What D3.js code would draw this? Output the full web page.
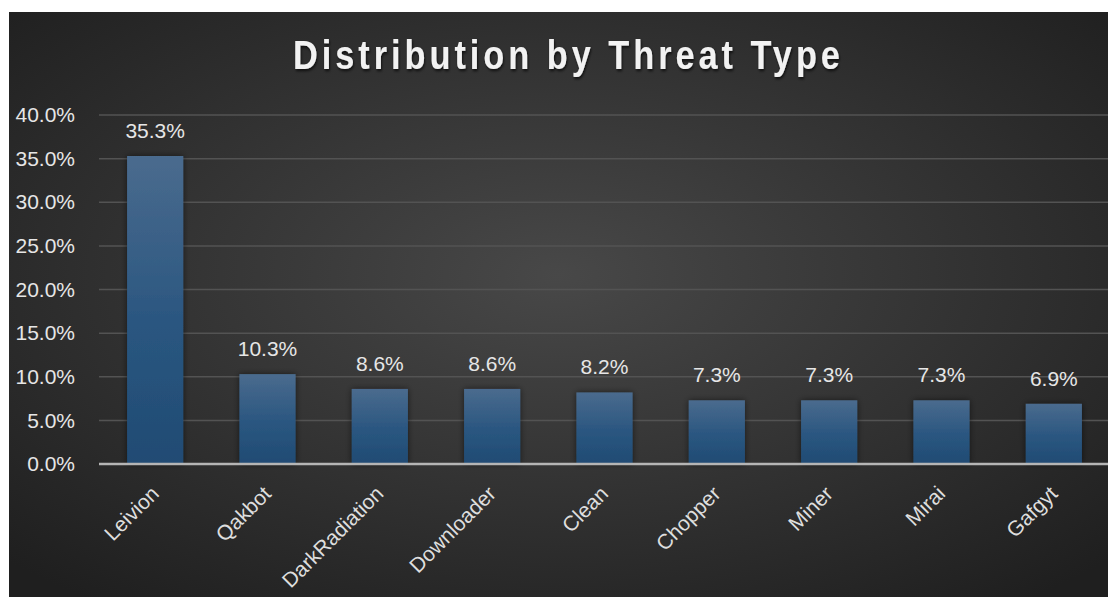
<!DOCTYPE html>
<html>
<head>
<meta charset="utf-8">
<script src="https://cdn.jsdelivr.net/npm/d3@7"></script>
<style>
  body { margin: 0; background: #fff; }
  svg { display: block; }
</style>
</head>
<body>
<div id="chart"></div>
<script>
// data
var categories = ["Leivion", "Qakbot", "DarkRadiation", "Downloader", "Clean", "Chopper", "Miner", "Mirai", "Gafgyt"];
var shares = [35.3, 10.3, 8.6, 8.6, 8.2, 7.3, 7.3, 7.3, 6.9];
var yTicks = [0, 5, 10, 15, 20, 25, 30, 35, 40];
var title = "Distribution by Threat Type";

var width = 1108, height = 597;
var margin = {top: 115, right: -2, bottom: 133, left: 99};
var labelFont = "'Liberation Sans', Arial, sans-serif";

var svg = d3.select("#chart").append("svg")
    .attr("width", width)
    .attr("height", height);

var defs = svg.append("defs");

// background: dark radial gradient, lighter in the middle
var bg = defs.append("radialGradient")
    .attr("id", "bg")
    .attr("cx", "50%").attr("cy", "45%").attr("r", "70%");
bg.append("stop").attr("offset", "0%").attr("stop-color", "#484848");
bg.append("stop").attr("offset", "100%").attr("stop-color", "#1f1f1f");

var barGrad = defs.append("linearGradient")
    .attr("id", "bar")
    .attr("x1", 0).attr("y1", 0).attr("x2", 0).attr("y2", 1);
barGrad.append("stop").attr("offset", "0%").attr("stop-color", "#4a6b8e");
barGrad.append("stop").attr("offset", "55%").attr("stop-color", "#2a5680");
barGrad.append("stop").attr("offset", "100%").attr("stop-color", "#204b73");

var shadow = defs.append("filter").attr("id", "shadow")
    .attr("x", "-30%").attr("y", "-30%").attr("width", "160%").attr("height", "160%");
shadow.append("feDropShadow")
    .attr("dx", 0).attr("dy", 0).attr("stdDeviation", 3)
    .attr("flood-color", "#000").attr("flood-opacity", 0.55);

var tshadow = defs.append("filter").attr("id", "tshadow")
    .attr("x", "-10%").attr("y", "-30%").attr("width", "120%").attr("height", "160%");
tshadow.append("feDropShadow")
    .attr("dx", 1).attr("dy", 2).attr("stdDeviation", 1.5)
    .attr("flood-color", "#000").attr("flood-opacity", 0.7);

svg.append("rect")
    .attr("x", 9).attr("y", 12)
    .attr("width", width - 9).attr("height", height - 12)
    .attr("fill", "url(#bg)");

var x = d3.scaleBand()
    .domain(categories)
    .range([margin.left, width - margin.right])
    .paddingInner(0.5)
    .paddingOuter(0.25);

var y = d3.scaleLinear()
    .domain([0, 40])
    .range([height - margin.bottom, margin.top]);

// gridlines
svg.append("g")
    .selectAll("line")
    .data(yTicks.filter(d => d > 0))
    .join("line")
    .attr("x1", margin.left)
    .attr("x2", width)
    .attr("y1", d => y(d))
    .attr("y2", d => y(d))
    .attr("stroke", "#535353")
    .attr("stroke-width", 1.5);

// y axis labels
var yAxis = d3.axisLeft(y)
    .tickValues(yTicks)
    .tickFormat(d => d.toFixed(1) + "%")
    .tickSize(0)
    .tickPadding(24);

svg.append("g")
    .attr("transform", "translate(" + margin.left + ",0)")
    .call(yAxis)
    .call(g => g.select(".domain").remove())
    .selectAll("text")
    .attr("fill", "#e6e6e6")
    .style("font-family", labelFont)
    .style("font-size", "21px");

// bars
svg.append("g")
    .selectAll("rect")
    .data(shares)
    .join("rect")
    .attr("x", (d, i) => x(categories[i]))
    .attr("y", d => y(d))
    .attr("width", x.bandwidth())
    .attr("height", d => y(0) - y(d))
    .attr("fill", "url(#bar)")
    .attr("filter", "url(#shadow)");

// value labels
svg.append("g")
    .selectAll("text")
    .data(shares)
    .join("text")
    .attr("x", (d, i) => x(categories[i]) + x.bandwidth() / 2)
    .attr("y", d => y(d) - 18)
    .attr("text-anchor", "middle")
    .attr("fill", "#e6e6e6")
    .style("font-family", labelFont)
    .style("font-size", "21px")
    .text(d => d.toFixed(1) + "%");

// x axis
var xAxis = d3.axisBottom(x).tickSize(0).tickPadding(0);
var gx = svg.append("g")
    .attr("transform", "translate(0," + y(0) + ")")
    .call(xAxis);
gx.select(".domain")
    .attr("stroke", "#b5b5b5")
    .attr("stroke-width", 2.5)
    .attr("d", "M" + margin.left + ",0H" + width);
gx.selectAll("text")
    .attr("fill", "#dedede")
    .attr("text-anchor", "end")
    .attr("dy", 0)
    .attr("transform", "translate(5,31) rotate(-45)")
    .style("font-family", labelFont)
    .style("font-size", "21px");

// title: squeezed horizontally and spread out to look like a condensed face
var sx = 0.86;
svg.append("g")
    .attr("transform", "translate(293,69) scale(" + sx + ",1)")
    .append("text")
    .attr("x", 0)
    .attr("y", 0)
    .attr("textLength", 547 / sx)
    .attr("lengthAdjust", "spacing")
    .attr("fill", "#f2f2f2")
    .attr("filter", "url(#tshadow)")
    .style("font-family", labelFont)
    .style("font-weight", "bold")
    .style("font-size", "40px")
    .text(title);
</script>
</body>
</html>
